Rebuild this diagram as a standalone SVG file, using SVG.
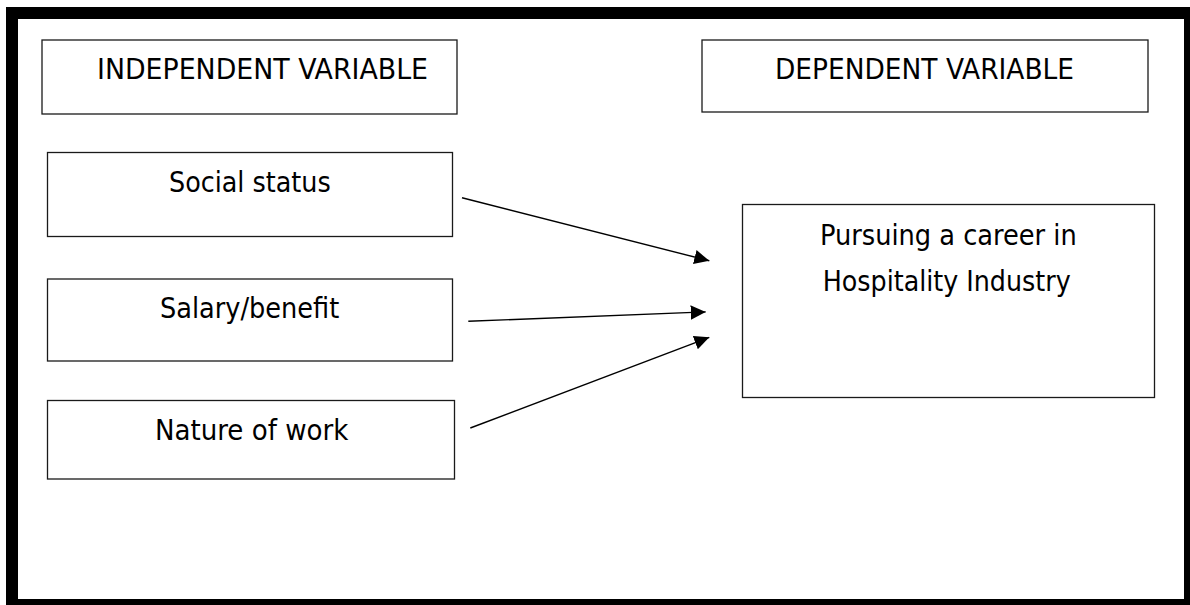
<svg xmlns="http://www.w3.org/2000/svg" width="1190" height="605" viewBox="0 0 1190 605">
  <style>
    .box { fill: #ffffff; stroke: #1a1a1a; stroke-width: 1.3; }
    .lbl { font-family: "DejaVu Sans Condensed", "DejaVu Sans", Verdana, sans-serif; font-size: 27.5px; fill: #000000; }
    .conn { stroke: #000000; stroke-width: 1.4; fill: none; marker-end: url(#arrow); }
  </style>
  <defs>
    <marker id="arrow" markerUnits="userSpaceOnUse" markerWidth="16" markerHeight="15" refX="15" refY="7.2" orient="auto">
      <path d="M0,0 L15,7.2 L0,14.4 Z" fill="#000000"/>
    </marker>
  </defs>
  <rect width="1190" height="605" fill="#ffffff"/>
  <rect id="frame" x="12" y="13" width="1178" height="592" fill="none" stroke="#000000" stroke-width="12"/>

  <g id="independent-header">
    <rect class="box" x="42" y="40" width="415" height="74"/>
    <text class="lbl" x="97" y="79.3" textLength="331" lengthAdjust="spacingAndGlyphs">INDEPENDENT VARIABLE</text>
  </g>
  <g id="dependent-header">
    <rect class="box" x="702" y="40" width="446" height="72"/>
    <text class="lbl" x="775" y="79.3" textLength="299" lengthAdjust="spacingAndGlyphs">DEPENDENT VARIABLE</text>
  </g>
  <g id="social-status">
    <rect class="box" x="47.5" y="152.5" width="405" height="84"/>
    <text class="lbl" x="169" y="192.3" textLength="161.7" lengthAdjust="spacingAndGlyphs">Social status</text>
  </g>
  <g id="salary-benefit">
    <rect class="box" x="47.5" y="279" width="405" height="82"/>
    <text class="lbl" x="160" y="318.3" textLength="179.3" lengthAdjust="spacingAndGlyphs">Salary/benefit</text>
  </g>
  <g id="nature-of-work">
    <rect class="box" x="47.5" y="400.5" width="407" height="78.5"/>
    <text class="lbl" x="155" y="440" textLength="193.3" lengthAdjust="spacingAndGlyphs">Nature of work</text>
  </g>
  <g id="career">
    <rect class="box" x="742.5" y="204.5" width="412" height="193"/>
    <text class="lbl" x="820" y="245" textLength="256.7" lengthAdjust="spacingAndGlyphs">Pursuing a career in</text>
    <text class="lbl" x="822.7" y="291" textLength="248" lengthAdjust="spacingAndGlyphs">Hospitality Industry</text>
  </g>

  <g id="connectors">
    <line class="conn" x1="462" y1="197.7" x2="709.3" y2="260.8"/>
    <line class="conn" x1="468.3" y1="321.3" x2="705.7" y2="311.9"/>
    <line class="conn" x1="470.3" y1="428" x2="709.3" y2="337.3"/>
  </g>
</svg>
